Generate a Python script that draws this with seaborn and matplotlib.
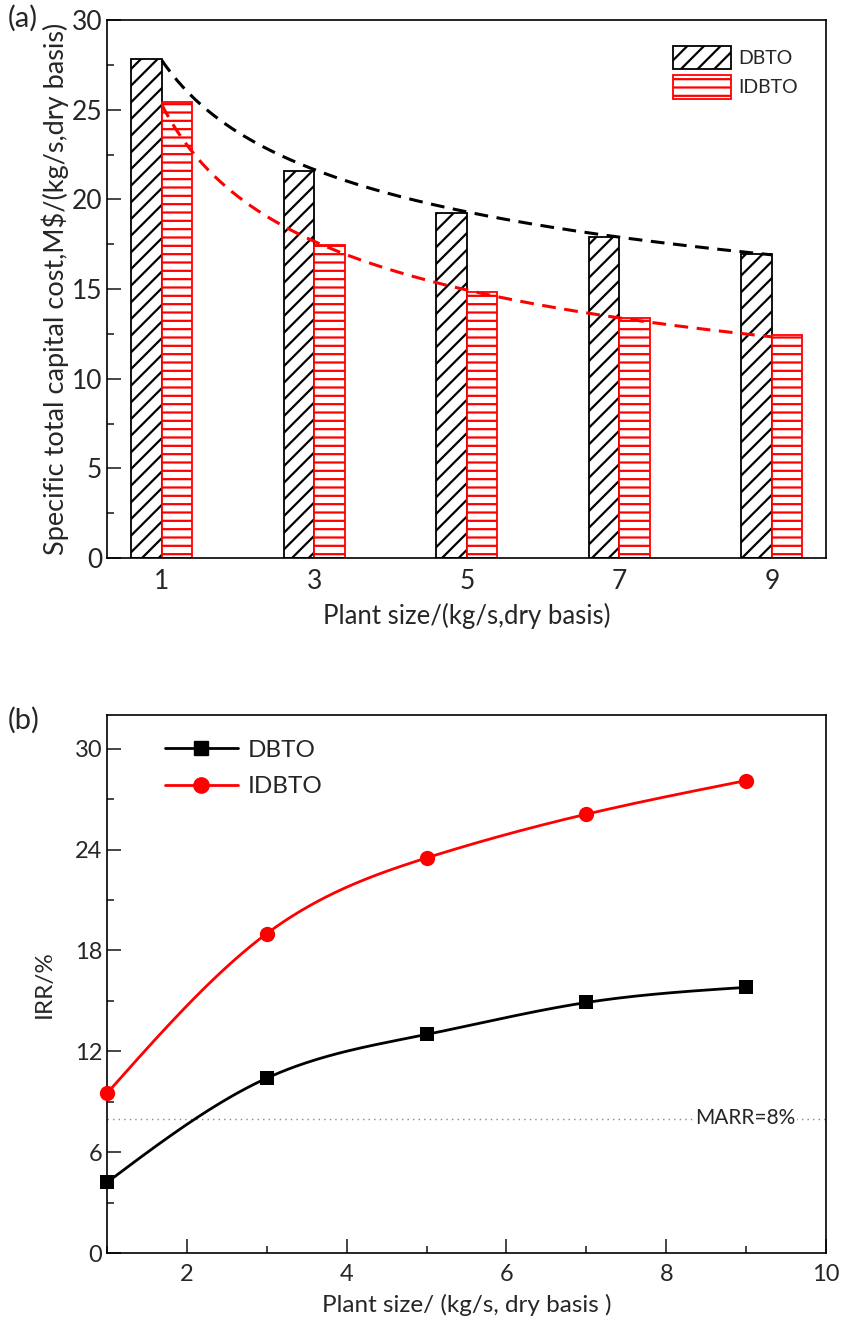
import numpy as np
import pandas as pd
import matplotlib
matplotlib.use("Agg")
import matplotlib.pyplot as plt
import matplotlib.patches as mpatches
from matplotlib.lines import Line2D
from matplotlib.ticker import MultipleLocator
import seaborn as sns

# ---------------- data ----------------
sizes_a = [1, 3, 5, 7, 9]
size_labels_a = ["1", "3", "5", "7", "9"]
cost_dbto = [27.8, 21.6, 19.25, 17.9, 16.95]
cost_idbto = [25.45, 17.45, 14.85, 13.4, 12.45]

sizes_b = [1, 3, 5, 7, 9]
irr_dbto = [4.2, 10.4, 13.0, 14.9, 15.8]
irr_idbto = [9.5, 19.0, 23.5, 26.1, 28.1]
marr = 8

series_names = ["DBTO", "IDBTO"]

# ---------------- style ----------------
sns.set_theme(style="ticks")
plt.rcParams["font.family"] = ["Lato", "DejaVu Sans"]
plt.rcParams["hatch.linewidth"] = 1.6
plt.rcParams["axes.linewidth"] = 1.2

fig = plt.figure(figsize=(8.44, 13.33), dpi=100)
W, H = 844, 1333
ax1 = fig.add_axes([107 / W, 1 - 558 / H, (826 - 107) / W, (558 - 20) / H])
ax2 = fig.add_axes([107 / W, 1 - 1253 / H, (826 - 107) / W, (1253 - 715) / H])

# ---------------- panel (a) ----------------
df_a = pd.DataFrame({
    "size": size_labels_a * 2,
    "scheme": ["DBTO"] * len(sizes_a) + ["IDBTO"] * len(sizes_a),
    "cost": cost_dbto + cost_idbto,
})
sns.barplot(data=df_a, x="size", y="cost", hue="scheme", order=size_labels_a,
            hue_order=series_names, palette=["black", "red"], width=0.40,
            gap=0, legend=False, ax=ax1, errorbar=None)

styles = {"DBTO": dict(ec="black", hatch="//"), "IDBTO": dict(ec="red", hatch="--")}
for cont, name in zip(ax1.containers, series_names):
    for bar in cont:
        bar.set_facecolor("white")
        bar.set_edgecolor(styles[name]["ec"])
        bar.set_hatch(styles[name]["hatch"])
        bar.set_linewidth(1.3)

# power-law trend lines (dashed)
xs = np.linspace(1, 9, 200)
for vals, col in [(cost_dbto, "black"), (cost_idbto, "red")]:
    b, loga = np.polyfit(np.log(sizes_a), np.log(vals), 1)
    ys = np.exp(loga) * xs ** b
    sns.lineplot(x=(xs - 1) / 2, y=ys, color=col, lw=2.2, ax=ax1,
                 linestyle=(0, (4.5, 2.8)))

ax1.set_xlim(-0.36, 4.355)
ax1.set_ylim(0, 30)
ax1.yaxis.set_major_locator(MultipleLocator(5))
ax1.yaxis.set_minor_locator(MultipleLocator(2.5))
ax1.tick_params(axis="y", which="major", direction="in", length=10, width=1.2, labelsize=19)
ax1.tick_params(axis="y", which="minor", direction="in", length=5, width=1.2)
ax1.tick_params(axis="x", direction="in", length=0, labelsize=19, pad=8)
for s in ax1.spines.values():
    s.set_visible(True)
    s.set_linewidth(1.2)
    s.set_color("black")
ax1.set_xlabel("Plant size/(kg/s,dry basis)", fontsize=18.5, labelpad=6)
ax1.set_ylabel("Specific total capital cost,M$/(kg/s,dry basis)", fontsize=19.5, labelpad=2)

hand_a = [mpatches.Patch(facecolor="white", edgecolor=styles[n]["ec"], hatch=styles[n]["hatch"],
                         linewidth=1.3, label=n) for n in series_names]
ax1.legend(handles=hand_a, loc="upper right", bbox_to_anchor=(0.985, 0.985), frameon=False,
           fontsize=14, handlelength=3.0, handleheight=1.5, handletextpad=0.35, labelspacing=0.3)
fig.text(8 / W, 1 - 18 / H, "(a)", fontsize=21, va="center", ha="left")

# ---------------- panel (b) ----------------
def natural_spline(x, y, xs):
    x = np.asarray(x, float); y = np.asarray(y, float)
    n = len(x); h = np.diff(x)
    A = np.zeros((n, n)); rhs = np.zeros(n)
    A[0, 0] = 1; A[-1, -1] = 1
    for i in range(1, n - 1):
        A[i, i - 1] = h[i - 1]; A[i, i] = 2 * (h[i - 1] + h[i]); A[i, i + 1] = h[i]
        rhs[i] = 3 * ((y[i + 1] - y[i]) / h[i] - (y[i] - y[i - 1]) / h[i - 1])
    c = np.linalg.solve(A, rhs)
    out = np.empty_like(xs)
    for k, xv in enumerate(xs):
        i = min(max(np.searchsorted(x, xv) - 1, 0), n - 2)
        bb = (y[i + 1] - y[i]) / h[i] - h[i] * (2 * c[i] + c[i + 1]) / 3
        d = (c[i + 1] - c[i]) / (3 * h[i])
        t = xv - x[i]
        out[k] = y[i] + bb * t + c[i] * t ** 2 + d * t ** 3
    return out

ax2.axhline(marr, color="#888888", lw=1.0, linestyle=(0, (1, 3)), zorder=1)
ax2.text(8.36, marr, "MARR=8%", fontsize=15, va="center", ha="left",
         bbox=dict(facecolor="white", edgecolor="none", pad=1), zorder=2)

xs2 = np.linspace(1, 9, 300)
for vals, col, mk, ms in [(irr_dbto, "black", "s", 10), (irr_idbto, "red", "o", 11)]:
    sns.lineplot(x=xs2, y=natural_spline(sizes_b, vals, xs2), color=col, lw=2.0, ax=ax2, zorder=3)
    sns.scatterplot(x=sizes_b, y=vals, color=col, marker=mk, s=ms ** 2, linewidth=0,
                    ax=ax2, zorder=4, clip_on=False)

ax2.set_xlim(1, 10)
ax2.set_ylim(0, 32)
ax2.xaxis.set_major_locator(MultipleLocator(2))
ax2.xaxis.set_minor_locator(MultipleLocator(1))
ax2.yaxis.set_major_locator(MultipleLocator(6))
ax2.yaxis.set_minor_locator(MultipleLocator(3))
ax2.tick_params(which="major", direction="in", length=10, width=1.2, labelsize=17)
ax2.tick_params(which="minor", direction="in", length=5, width=1.2)
ax2.tick_params(axis="x", pad=8)
for s in ax2.spines.values():
    s.set_visible(True)
    s.set_linewidth(1.2)
    s.set_color("black")
ax2.set_xlabel("Plant size/ (kg/s, dry basis )", fontsize=17.5, labelpad=6)
ax2.set_ylabel("IRR/%", fontsize=17.5, labelpad=14)

hand_b = [Line2D([], [], color="black", lw=2, marker="s", markersize=10, label="DBTO"),
          Line2D([], [], color="red", lw=2, marker="o", markersize=11, label="IDBTO")]
ax2.legend(handles=hand_b, loc="upper left", bbox_to_anchor=(0.05, 0.995), frameon=False,
           fontsize=17.5, handlelength=3.0, handletextpad=0.4, labelspacing=0.65)
fig.text(8 / W, 1 - 720 / H, "(b)", fontsize=21, va="center", ha="left")

fig.savefig("out.png", dpi=100)
